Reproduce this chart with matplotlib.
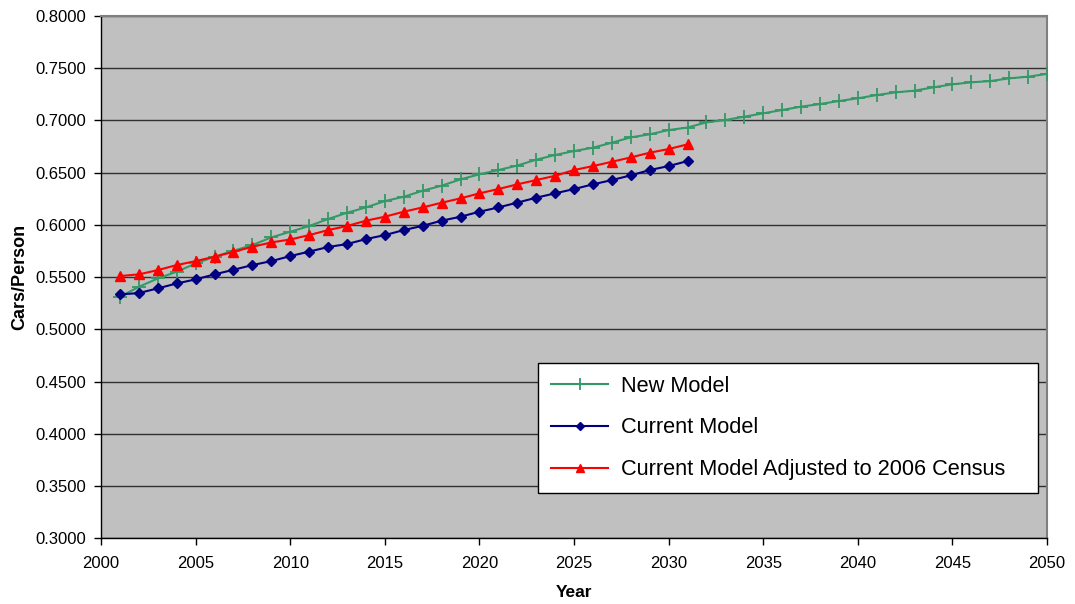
import matplotlib
matplotlib.use("Agg")
from matplotlib import pyplot as plt
from matplotlib.ticker import MultipleLocator, FormatStrFormatter

plt.rcParams['font.family'] = ['Liberation Sans', 'DejaVu Sans']

# projections, cars per person by year
new_years = list(range(2001, 2051))
new_model = [0.5311, 0.5407, 0.5487, 0.5551, 0.5631, 0.5695, 0.5752, 0.5807, 0.5880, 0.5934,
             0.5989, 0.6056, 0.6116, 0.6167, 0.6228, 0.6269, 0.6327, 0.6375, 0.6436, 0.6484,
             0.6525, 0.6568, 0.6624, 0.6669, 0.6707, 0.6739, 0.6787, 0.6838, 0.6867, 0.6908,
             0.6932, 0.6982, 0.7004, 0.7036, 0.7068, 0.7100, 0.7132, 0.7157, 0.7186, 0.7212,
             0.7243, 0.7269, 0.7285, 0.7317, 0.7346, 0.7365, 0.7377, 0.7403, 0.7419, 0.7446]

cur_years = list(range(2001, 2032))
current_model = [0.5334, 0.5347, 0.5392, 0.5439, 0.5478, 0.5526, 0.5570, 0.5615, 0.5653, 0.5701,
                 0.5744, 0.5788, 0.5816, 0.5864, 0.5902, 0.5950, 0.5991, 0.6040, 0.6078, 0.6126,
                 0.6167, 0.6213, 0.6260, 0.6302, 0.6343, 0.6388, 0.6429, 0.6474, 0.6525, 0.6563,
                 0.6611]
adjusted_2006 = [0.5510, 0.5526, 0.5567, 0.5615, 0.5653, 0.5695, 0.5742, 0.5790, 0.5832, 0.5860,
                 0.5902, 0.5950, 0.5989, 0.6040, 0.6078, 0.6126, 0.6167, 0.6212, 0.6254, 0.6302,
                 0.6343, 0.6388, 0.6429, 0.6470, 0.6525, 0.6563, 0.6604, 0.6646, 0.6691, 0.6726,
                 0.6771]

labels = ['New Model', 'Current Model', 'Current Model Adjusted to 2006 Census']

fig = plt.figure(figsize=(10.75, 6.04), dpi=100)
ax = fig.add_axes([0.094, 0.109, 0.880, 0.8645])
ax.set_facecolor('#c0c0c0')

ax.plot(new_years, new_model, color='#339966', lw=1.5, marker='+', ms=10, mew=1.3,
        label=labels[0], zorder=3)
ax.plot(cur_years, current_model, color='#000080', lw=1.5, marker='D', ms=5,
        label=labels[1], zorder=3)
ax.plot(cur_years, adjusted_2006, color='#ff0000', lw=1.5, marker='^', ms=7,
        label=labels[2], zorder=3)

ax.set_xlim(2000, 2050)
ax.set_ylim(0.3, 0.8)
ax.xaxis.set_major_locator(MultipleLocator(5))
ax.yaxis.set_major_locator(MultipleLocator(0.05))
ax.yaxis.set_major_formatter(FormatStrFormatter('%.4f'))
ax.tick_params(direction='out', length=5, width=1, labelsize=12, pad=4)
ax.tick_params(axis='y', pad=6)
ax.tick_params(axis='x', pad=8)
ax.yaxis.grid(True, color='#303030', lw=1)
ax.set_axisbelow(True)

for s in ['left', 'bottom']:
    ax.spines[s].set_color('black')
    ax.spines[s].set_linewidth(1)
for s in ['top', 'right']:
    ax.spines[s].set_color('#808080')
    ax.spines[s].set_linewidth(1.5)

ax.set_xlabel('Year', fontsize=12.5, fontweight='bold', labelpad=10)
ax.set_ylabel('Cars/Person', fontsize=13, fontweight='bold', labelpad=5)

leg = ax.legend(loc='lower left', bbox_to_anchor=(0.462, 0.086, 0.528, 0.25),
                mode='expand', borderaxespad=0, fontsize=15.7, frameon=True,
                fancybox=False, edgecolor='black', framealpha=1,
                handlelength=2.6, handletextpad=0.6, labelspacing=0.95,
                borderpad=0.6, markerscale=0.8)
leg.get_frame().set_linewidth(1)

fig.savefig('out.png', dpi=100, facecolor='white')
